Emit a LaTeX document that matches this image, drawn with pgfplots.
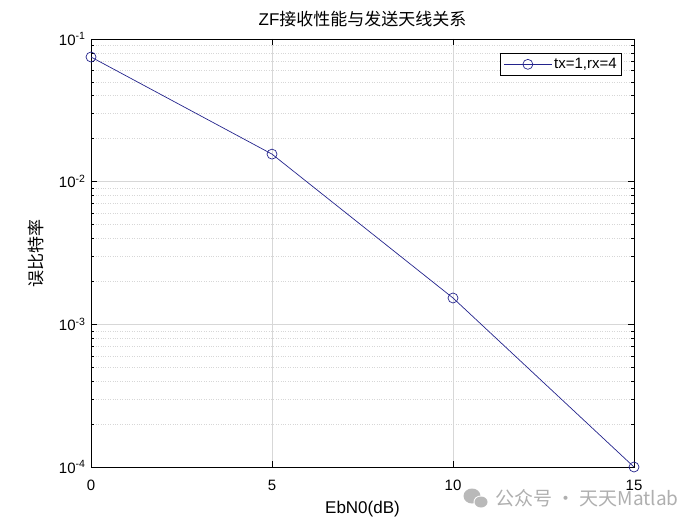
\documentclass[border=0pt]{standalone}
\usepackage{pgfplots}
\pgfplotsset{compat=1.18}
\usepackage{fontspec}
\setmainfont{Liberation Sans}
\newfontfamily\cjk{Noto Sans CJK SC}
\definecolor{lineblue}{RGB}{35,35,140}
\definecolor{gridgray}{RGB}{215,215,215}
\definecolor{wmgray}{RGB}{175,175,175}
\begin{document}
\begin{tikzpicture}[x=1pt,y=1pt]
\path[use as bounding box] (0,0) rectangle (700,525);
\begin{axis}[
  at={(91pt,58pt)}, anchor=south west,
  scale only axis, width=543pt, height=428pt,
  xmin=0, xmax=15, ymode=log, ymin=1e-4, ymax=1e-1,
  xtick={0,5,10,15}, xticklabels={0,5,10,15},
  ytick={1e-4,1e-3,1e-2,1e-1},
  yticklabels={10\textsuperscript{-4},10\textsuperscript{-3},10\textsuperscript{-2},10\textsuperscript{-1}},
  tick align=inside, major tick length=6pt, minor tick length=3pt,
  xtick pos=both, ytick pos=both,
  tick style={black, line width=0.6pt},
  axis line style={black, line width=0.8pt},
  xmajorgrids, ymajorgrids, yminorgrids,
  major grid style={gridgray, line width=0.6pt},
  minor grid style={gridgray, dotted, line width=0.6pt},
  ticklabel style={font=\fontsize{15}{17}\selectfont},
  xticklabel style={anchor=center, yshift=-18pt},
  yticklabel style={xshift=-2pt},
  title={\fontsize{17}{19}\selectfont ZF{\cjk 接收性能与发送天线关系}},
  title style={at={(axis description cs:0.5,1.0327)}, anchor=center},
  xlabel={\fontsize{17}{19}\selectfont EbN0(dB)},
  xlabel style={at={(axis description cs:0.5,-0.0981)}, anchor=center},
  ylabel={\fontsize{17}{19}\selectfont\cjk 误比特率},
  ylabel style={at={(axis description cs:-0.1013,0.5)}, anchor=center},
  legend style={at={(0.978,0.967)}, anchor=north east, draw=black, line width=0.6pt,
    font=\fontsize{15}{17}\selectfont, inner sep=3pt},
  legend cell align=left,
  legend image code/.code={
    \draw[mark repeat=2,mark phase=2,#1] plot coordinates {(0pt,0pt) (24pt,0pt) (48pt,0pt)};
  },
]
\addplot[color=lineblue, line width=0.7pt, mark=o, mark size=5pt,
  mark options={line width=0.7pt}]
  coordinates {(0,0.0748) (5,0.0156) (10,0.00153) (15,0.0001)};
\addlegendentry{tx=1,rx=4}
\end{axis}
\node[anchor=west, text=wmgray, font=\fontsize{19}{21}\selectfont, inner sep=0pt] at (495,27) {\cjk 公众号 · 天天Matlab};
\fill[gray!55] (472,29) ellipse (8.5 and 7.5);
\fill[white] (481,23) ellipse (7.5 and 6.5);
\fill[gray!55] (481,23) ellipse (6.5 and 5.5);
\end{tikzpicture}
\end{document}
